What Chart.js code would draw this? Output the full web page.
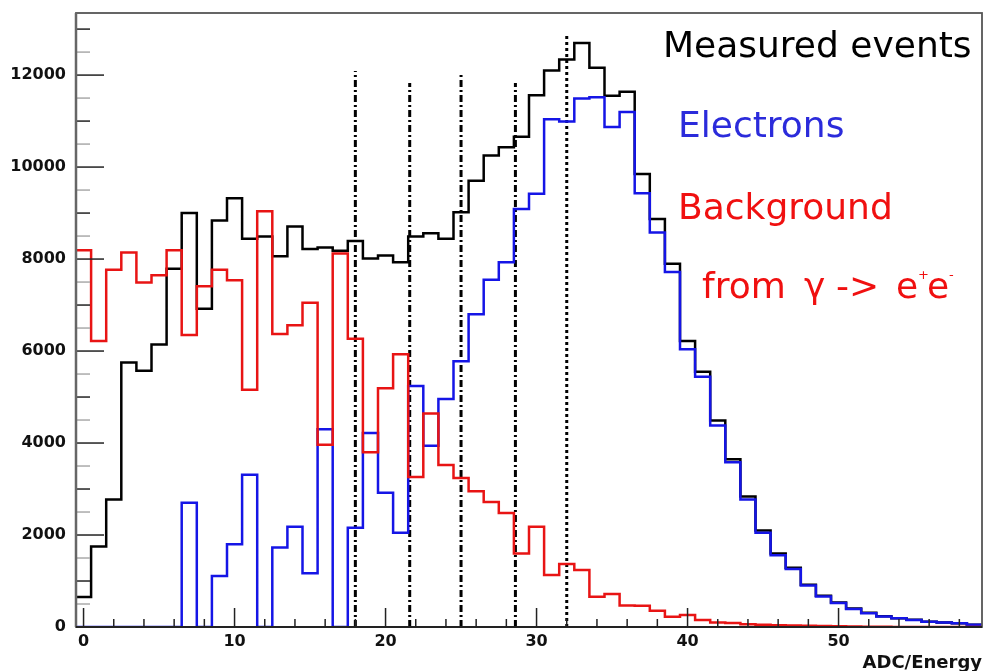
<!DOCTYPE html>
<html>
<head>
<meta charset="utf-8">
<script src="https://cdn.jsdelivr.net/npm/chart.js@4.4.1/dist/chart.umd.min.js"></script>
<style>
html, body { margin: 0; padding: 0; background: #fff; }
#wrap { width: 983px; height: 671px; }
</style>
</head>
<body>
<div id="wrap"><canvas id="adc" width="983" height="671"></canvas></div>
<script>
// histogram bins, 1 unit wide, centred on these values
const binCentres = [0,1,2,3,4,5,6,7,8,9,10,11,12,13,14,15,16,17,18,19,20,21,22,23,24,25,26,27,28,29,
  30,31,32,33,34,35,36,37,38,39,40,41,42,43,44,45,46,47,48,49,50,51,52,53,54,55,56,57,58,59]

const measured = [650,1750,2770,5750,5570,6140,7790,9000,6920,8840,9320,8440,8490,8060,8710,8220,
  8250,8180,8390,8010,8080,7930,8490,8560,8440,9020,9700,10250,10430,10660,11560,12100,12340,12700,
  12160,11550,11640,9850,8870,7900,6220,5550,4490,3650,2840,2100,1600,1290,920,680,530,400,310,235,
  190,155,115,100,80,50]

const electrons = [0,0,0,0,0,0,0,2700,0,1110,1800,3310,0,1730,2180,1170,4300,0,2160,4220,2920,2050,
  5240,3940,4960,5780,6800,7550,7930,9090,9420,11040,10990,11490,11520,10870,11200,9430,8580,7720,
  6040,5440,4380,3580,2770,2050,1560,1260,900,665,520,390,300,230,190,150,115,100,80,50]

const background = [8190,6220,7770,8140,7490,7650,8190,6350,7410,7770,7540,5160,9040,6370,6560,7050,
  3960,8120,6270,3800,5190,5930,3260,4640,3520,3240,2950,2720,2480,1600,2180,1130,1370,1240,660,715,
  470,460,355,225,260,150,100,85,60,50,40,30,25,20,15,10,5,5,0,0,0,0,0,0]

// vertical cut lines
const cutPos = [18, 21.6, 25, 28.6, 32]
const cutTop = [12090, 11830, 12000, 11830, 12880]
const cutDash = [[7,3,2,3], [7,3,2,3], [7,3,2,3], [7,3,2,3], [3,3]]

const xTicks = [0, 10, 20, 30, 40, 50]
const yTicks = [0, 2000, 4000, 6000, 8000, 10000, 12000]

const legendItems = [
  {text: 'Measured events', color: '#000000', x: 663, y: 57},
  {text: 'Electrons', color: '#2b2bdb', x: 678, y: 137},
  {text: 'Background', color: '#f01010', x: 678, y: 219}
]
// last legend line: [text, x, superscript?]
const gammaLine = [['from', 702, 0], ['\u03b3', 804, 0], ['->', 836, 0], ['e', 896, 0],
  ['+', 918, 1], ['e', 927, 0], ['-', 949, 1]]

function histPoints(vals) {
  const pts = vals.map((v, i) => ({x: binCentres[i] - 0.5, y: v}))
  pts.push({x: binCentres[vals.length - 1] + 0.5, y: vals[vals.length - 1]})
  return pts
}

const datasets = [
  {data: histPoints(background), borderColor: '#e81414', borderWidth: 2.5, stepped: 'before'},
  {data: histPoints(electrons), borderColor: '#1515e6', borderWidth: 2.5, stepped: 'before'},
  {data: histPoints(measured), borderColor: '#000000', borderWidth: 2.5, stepped: 'before'}
]
cutPos.forEach((c, i) => {
  datasets.push({
    data: [{x: c, y: 0}, {x: c, y: cutTop[i]}],
    borderColor: '#000000', borderWidth: 3, borderDash: cutDash[i], borderCapStyle: 'butt'
  })
})

// frame, inward ticks and texts, ROOT style
const frame = {
  id: 'frame',
  afterDatasetsDraw(chart) {
    const {ctx, chartArea: a, scales: {x, y}} = chart
    ctx.save()
    ctx.lineWidth = 1.5
    for (let v = 0; v <= y.max; v += 500) {
      const py = y.getPixelForValue(v)
      const len = v % 2000 === 0 ? 28 : 14
      ctx.strokeStyle = v % 1000 === 0 ? '#222' : '#aaa'
      ctx.beginPath(); ctx.moveTo(a.left, py); ctx.lineTo(a.left + len, py); ctx.stroke()
    }
    ctx.strokeStyle = '#222'
    for (let v = 0; v <= x.max; v += 2) {
      const px = x.getPixelForValue(v)
      const len = v % 10 === 0 ? 19 : 8
      ctx.beginPath(); ctx.moveTo(px, a.bottom); ctx.lineTo(px, a.bottom - len); ctx.stroke()
    }
    // frame
    ctx.strokeStyle = '#555'
    ctx.lineWidth = 1.8
    ctx.strokeRect(a.left, a.top, a.right - a.left, a.bottom - a.top)
    ctx.strokeStyle = '#666'
    ctx.lineWidth = 2.5
    ctx.beginPath(); ctx.moveTo(a.left, a.top); ctx.lineTo(a.left, a.bottom); ctx.stroke()
    ctx.strokeStyle = '#222'
    ctx.lineWidth = 2
    ctx.beginPath(); ctx.moveTo(a.left, a.bottom); ctx.lineTo(a.right, a.bottom); ctx.stroke()

    // legend text
    ctx.textBaseline = 'alphabetic'
    ctx.textAlign = 'left'
    ctx.font = '36px "DejaVu Sans"'
    legendItems.forEach(it => {
      ctx.fillStyle = it.color
      ctx.fillText(it.text, it.x, it.y)
    })
    ctx.fillStyle = '#f01010'
    const base = 298
    gammaLine.forEach(p => {
      ctx.font = p[2] ? '13px "DejaVu Sans"' : '36px "DejaVu Sans"'
      ctx.fillText(p[0], p[1], p[2] ? base - 19 : base)
    })

    // axis title
    ctx.fillStyle = '#111'
    ctx.textAlign = 'right'
    ctx.font = 'bold 18px "DejaVu Sans"'
    ctx.fillText('ADC/Energy', 982, 668)
    ctx.restore()
  }
}

const tickFont = {family: 'DejaVu Sans', weight: 'bold', size: 16}

new Chart(document.getElementById('adc'), {
  type: 'line',
  data: {datasets: datasets},
  options: {
    responsive: false,
    animation: false,
    layout: {padding: {top: 13, right: 1, left: 0, bottom: 0}},
    elements: {point: {radius: 0}, line: {tension: 0}},
    plugins: {legend: {display: false}, tooltip: {enabled: false}},
    scales: {
      x: {
        type: 'linear', min: -0.5, max: 59.5,
        grid: {display: false, drawTicks: false},
        border: {display: false},
        afterBuildTicks: s => { s.ticks = xTicks.map(v => ({value: v})) },
        afterFit: s => { s.height = 44; s.paddingLeft = 0; s.paddingRight = 0 },
        ticks: {padding: 5, color: '#111', font: tickFont, maxRotation: 0, autoSkip: false}
      },
      y: {
        min: 0, max: 13350,
        grid: {display: false, drawTicks: false},
        border: {display: false},
        afterBuildTicks: s => { s.ticks = yTicks.map(v => ({value: v})) },
        afterFit: s => { s.width = 76; s.paddingTop = 0; s.paddingBottom = 0 },
        ticks: {padding: 10, color: '#111', font: tickFont, autoSkip: false, callback: v => String(v)}
      }
    }
  },
  plugins: [frame]
})
</script>
</body>
</html>
